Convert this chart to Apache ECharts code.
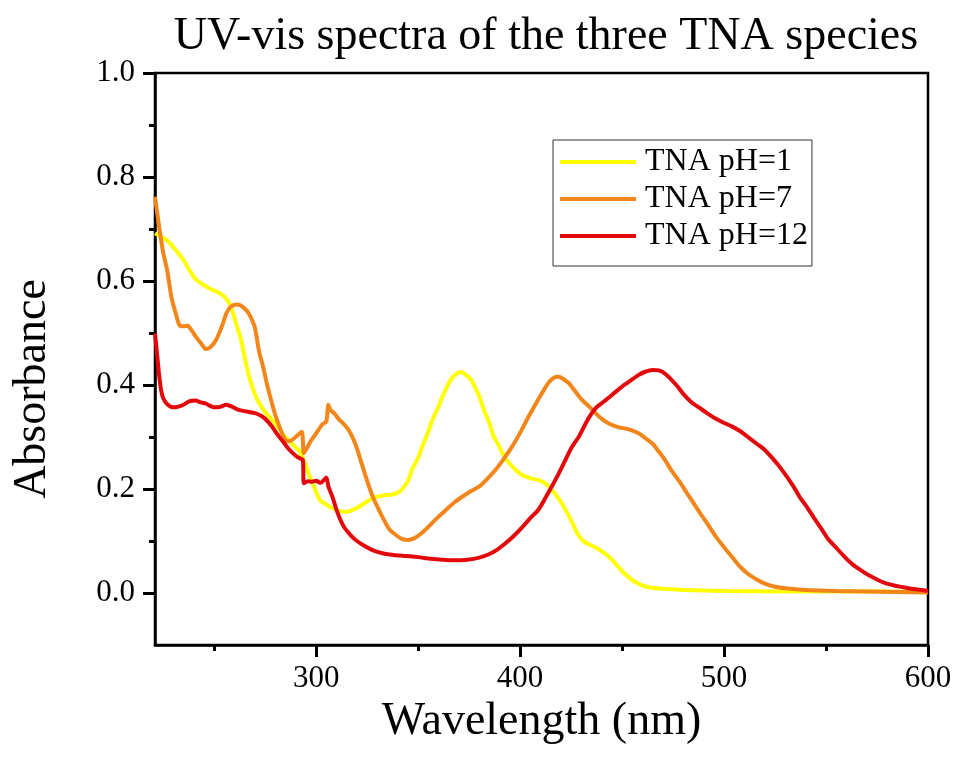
<!DOCTYPE html>
<html>
<head>
<meta charset="utf-8">
<script src="https://cdn.jsdelivr.net/npm/echarts@6/dist/echarts.min.js"></script>
<style>
  html, body { margin: 0; padding: 0; background: #fff; }
  #chart { width: 955px; height: 767px; }
</style>
</head>
<body>
<div id="chart"></div>
<script>
// data (wavelength in nm, absorbance)
const seriesNames = ['TNA pH=1', 'TNA pH=7', 'TNA pH=12']

const wlPH1 = [221,224,227,231,235,238,241,245,248,252,255,258,261,263,266,268,271,275,278,281,284,287,290,292,295,297,300,302,305,308,311,315,318,321,325,328,331,334,337,340,342,345,347,350,352,355,357,360,362,364,366,368,371,373,376,378,380,382,385,387,390,392,395,398,401,405,409,412,414,417,420,423,426,428,431,434,437,440,442,445,448,451,455,459,463,470,480,500,530,560,600]
const absPH1 = [0.692,0.685,0.678,0.660,0.640,0.620,0.603,0.592,0.585,0.578,0.570,0.553,0.515,0.490,0.435,0.405,0.373,0.348,0.335,0.320,0.304,0.292,0.280,0.272,0.245,0.222,0.195,0.178,0.170,0.163,0.158,0.156,0.160,0.166,0.176,0.183,0.186,0.188,0.189,0.193,0.199,0.215,0.237,0.260,0.281,0.310,0.333,0.358,0.378,0.395,0.410,0.419,0.425,0.421,0.410,0.395,0.378,0.355,0.326,0.302,0.280,0.264,0.248,0.236,0.227,0.221,0.217,0.212,0.205,0.192,0.175,0.155,0.132,0.115,0.100,0.093,0.088,0.080,0.075,0.064,0.051,0.038,0.025,0.016,0.011,0.008,0.006,0.004,0.003,0.003,0.002]

const wlPH7 = [221,223,225,227,229,231,233,235,237,239,241,244,246,248,251,254,256,258,261,263,266,268,270,272,274,276,278,280,283,285,287,290,293,294,297,300,303,305,306,307,309,311,314,316,318,320,322,324,326,328,331,334,336,339,342,345,348,351,355,359,364,368,372,376,380,384,388,392,396,400,404,408,411,414,417,419,421,424,427,430,434,437,440,444,448,452,456,459,462,465,468,471,474,478,481,484,488,491,494,497,500,504,508,512,516,520,525,530,540,555,570,585,600]
const absPH7 = [0.762,0.705,0.655,0.620,0.570,0.540,0.515,0.513,0.514,0.505,0.493,0.478,0.469,0.472,0.487,0.515,0.538,0.550,0.555,0.553,0.543,0.530,0.510,0.465,0.435,0.400,0.370,0.342,0.310,0.294,0.292,0.300,0.310,0.269,0.290,0.307,0.324,0.330,0.362,0.352,0.345,0.335,0.323,0.313,0.298,0.278,0.253,0.228,0.204,0.183,0.158,0.135,0.122,0.112,0.104,0.102,0.105,0.113,0.127,0.143,0.161,0.175,0.186,0.196,0.205,0.220,0.237,0.258,0.281,0.308,0.338,0.366,0.386,0.405,0.415,0.416,0.412,0.403,0.388,0.373,0.358,0.346,0.335,0.325,0.319,0.316,0.311,0.305,0.296,0.287,0.272,0.256,0.237,0.215,0.197,0.179,0.155,0.138,0.120,0.103,0.088,0.069,0.050,0.036,0.026,0.018,0.012,0.009,0.006,0.004,0.003,0.002,0.001]

const wlPH12 = [221,222,223,224,225,227,230,232,235,238,241,243,246,248,250,253,256,259,262,266,270,273,275,278,281,284,287,290,292,293.5,294,296,298,300,302,303,305,306,308,310,312,314,317,320,324,328,333,338,344,350,356,362,368,374,380,385,389,393,397,401,405,409,413,416,419,422,425,429,432,435,438,442,446,450,454,458,461,465,468,471,474,477,480,484,488,492,496,500,504,508,512,516,520,524,527,530,534,537,540,544,548,551,555,559,563,567,571,575,579,584,588,592,596,600]
const absPH12 = [0.499,0.460,0.420,0.390,0.375,0.363,0.357,0.358,0.362,0.369,0.370,0.367,0.364,0.360,0.357,0.358,0.362,0.358,0.352,0.349,0.346,0.341,0.335,0.322,0.305,0.290,0.275,0.264,0.259,0.256,0.211,0.215,0.214,0.216,0.212,0.214,0.222,0.205,0.185,0.160,0.140,0.125,0.111,0.100,0.090,0.082,0.076,0.073,0.071,0.069,0.066,0.064,0.063,0.064,0.068,0.075,0.084,0.096,0.110,0.126,0.144,0.160,0.187,0.208,0.230,0.254,0.278,0.302,0.325,0.345,0.359,0.371,0.384,0.397,0.408,0.419,0.425,0.429,0.428,0.422,0.411,0.398,0.383,0.367,0.356,0.345,0.335,0.327,0.320,0.311,0.299,0.287,0.275,0.258,0.244,0.228,0.205,0.185,0.169,0.145,0.122,0.104,0.087,0.070,0.055,0.044,0.034,0.026,0.019,0.014,0.011,0.008,0.006,0.004]

// axis ticks and labels
const xMajorTicks = [300, 400, 500, 600]
const xMinorTicks = [250, 350, 450, 550]
const yMajorTicks = [0, 0.2, 0.4, 0.6, 0.8, 1.0]
const yMinorTicks = [0.1, 0.3, 0.5, 0.7, 0.9]

const colors = ['#FFFF00', '#F2861A', '#E3080C']
const serif = '"Liberation Serif", "DejaVu Serif", serif'

function pairs(xs, ys){
    return xs.map((x, i) => [x, ys[i]])
}

const chart = echarts.init(document.getElementById('chart'), null, {renderer: 'canvas'})

// every axis shares the same range, extra ones only carry ticks
function xAx(extra){
    return Object.assign({
        type: 'value', min: 221, max: 600, gridIndex: 0, position: 'bottom',
        splitLine: {show: false},
        axisLine: {show: false, onZero: false},
        axisTick: {show: false},
        axisLabel: {show: false}
    }, extra)
}
function yAx(extra){
    return Object.assign({
        type: 'value', min: -0.1, max: 1.0, gridIndex: 0, position: 'left',
        splitLine: {show: false},
        axisLine: {show: false, onZero: false},
        axisTick: {show: false},
        axisLabel: {show: false}
    }, extra)
}
const tickLine = {color: '#000', width: 3}

const option = {
    backgroundColor: '#fff',
    animation: false,
    title: {
        text: 'UV-vis spectra of the three TNA species',
        left: 541, top: 9, textAlign: 'center',
        textStyle: {fontFamily: serif, fontSize: 46, fontWeight: 'normal', color: '#000'}
    },
    legend: {
        orient: 'vertical',
        left: 553, top: 140,
        data: seriesNames,
        icon: 'rect',
        itemWidth: 76, itemHeight: 4, itemGap: 5,
        padding: [6, 4, 14, 7],
        borderColor: '#333', borderWidth: 1,
        textStyle: {fontFamily: serif, fontSize: 32, color: '#000', lineHeight: 32, padding: [0, 0, 0, 4]}
    },
    grid: {
        left: 155, right: 27, top: 73, bottom: 122,
        show: true, borderColor: '#000', borderWidth: 2.5, backgroundColor: 'transparent'
    },
    xAxis: [
        xAx({
            name: 'Wavelength (nm)', nameLocation: 'middle', nameGap: 47,
            nameTextStyle: {fontFamily: serif, fontSize: 46, color: '#000'},
            axisLine: {show: true, onZero: false, lineStyle: {color: '#000', width: 2.5}},
            axisTick: {show: true, length: 12, customValues: xMajorTicks, lineStyle: tickLine},
            axisLabel: {show: true, customValues: xMajorTicks, margin: 18,
                fontFamily: serif, fontSize: 31, color: '#000'}
        }),
        xAx({axisTick: {show: true, length: 12, customValues: xMajorTicks, lineStyle: tickLine}}),
        xAx({axisTick: {show: true, length: 6, customValues: xMinorTicks, lineStyle: tickLine}}),
        xAx({axisTick: {show: true, length: 12, customValues: xMajorTicks, lineStyle: tickLine}})
    ],
    yAxis: [
        yAx({
            name: 'Absorbance', nameLocation: 'middle', nameGap: 99, nameRotate: 90,
            nameTextStyle: {fontFamily: serif, fontSize: 46, color: '#000', padding: [0, 60, 0, 0]},
            axisLine: {show: true, onZero: false, lineStyle: {color: '#000', width: 2.5}},
            axisLabel: {show: true, customValues: yMajorTicks, margin: 20,
                fontFamily: serif, fontSize: 31, color: '#000',
                formatter: v => v.toFixed(1)}
        }),
        yAx({axisTick: {show: true, length: 12, customValues: yMajorTicks, lineStyle: tickLine}}),
        yAx({axisTick: {show: true, length: 6, customValues: yMinorTicks, lineStyle: tickLine}})
    ],
    series: [
        {name: seriesNames[0], data: pairs(wlPH1, absPH1)},
        {name: seriesNames[1], data: pairs(wlPH7, absPH7)},
        {name: seriesNames[2], data: pairs(wlPH12, absPH12)}
    ].map((s, i) => Object.assign(s, {
        type: 'line', xAxisIndex: 0, yAxisIndex: 0,
        showSymbol: false, symbol: 'none',
        smooth: 0.25,
        color: colors[i],
        lineStyle: {color: colors[i], width: 4}
    }))
}

chart.setOption(option)
</script>
</body>
</html>
